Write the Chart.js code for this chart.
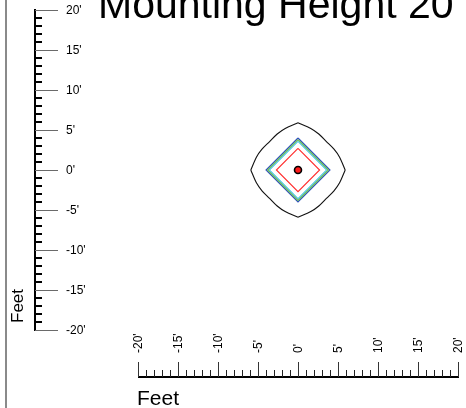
<!DOCTYPE html>
<html>
<head>
<meta charset="utf-8">
<style>
  html, body { margin: 0; padding: 0; background: #fff; }
  #wrap { width: 466px; height: 408px; }
</style>
<script src="https://cdn.jsdelivr.net/npm/chart.js@4"></script>
</head>
<body>
<div id="wrap"><canvas id="plot" width="466" height="408"></canvas></div>
<script>
// axis ticks (feet)
var tickValues = [20, 15, 10, 5, 0, -5, -10, -15, -20];
var tickLabels = ["20'", "15'", "10'", "5'", "0'", "-5'", "-10'", "-15'", "-20'"];

// luminaire position
var fixture = [{x: 0, y: 0}];

// outer isolux contour, one arc per quadrant (feet)
var outerNE = [{x: 0, y: 5.9}, {x: 1.6, y: 5.2}, {x: 2.6, y: 4.5}, {x: 3.55, y: 3.55}, {x: 4.5, y: 2.6}, {x: 5.2, y: 1.6}, {x: 5.9, y: 0}];
var outerSE = [{x: 5.9, y: 0}, {x: 5.2, y: -1.6}, {x: 4.5, y: -2.6}, {x: 3.55, y: -3.55}, {x: 2.6, y: -4.5}, {x: 1.6, y: -5.2}, {x: 0, y: -5.9}];
var outerSW = [{x: 0, y: -5.9}, {x: -1.6, y: -5.2}, {x: -2.6, y: -4.5}, {x: -3.55, y: -3.55}, {x: -4.5, y: -2.6}, {x: -5.2, y: -1.6}, {x: -5.9, y: 0}];
var outerNW = [{x: -5.9, y: 0}, {x: -5.2, y: 1.6}, {x: -4.5, y: 2.6}, {x: -3.55, y: 3.55}, {x: -2.6, y: 4.5}, {x: -1.6, y: 5.2}, {x: 0, y: 5.9}];

// inner contours (diamonds)
var blueContour = [{x: 0, y: 4.0}, {x: 4.0, y: 0}, {x: 0, y: -4.0}, {x: -4.0, y: 0}, {x: 0, y: 4.0}];
var greenContour = [{x: 0, y: 3.8}, {x: 3.8, y: 0}, {x: 0, y: -3.8}, {x: -3.8, y: 0}, {x: 0, y: 3.8}];
var cyanContour = [{x: 0, y: 3.58}, {x: 3.58, y: 0}, {x: 0, y: -3.58}, {x: -3.58, y: 0}, {x: 0, y: 3.58}];
var redContour = [{x: 0, y: 2.7}, {x: 2.7, y: 0}, {x: 0, y: -2.7}, {x: -2.7, y: 0}, {x: 0, y: 2.7}];

var FONT = '"Liberation Sans", Arial, sans-serif';

function contour(data, color, tension) {
    return {
        type: "line",
        data: data,
        showLine: true,
        borderColor: color,
        borderWidth: 1.1,
        pointRadius: 0,
        fill: false,
        tension: tension || 0
    };
}

// ruler-style axes, title and frame drawn from the chart's own scales
var rulerPlugin = {
    id: "ruler",
    afterDraw: function (chart) {
        var ctx = chart.ctx;
        var xs = chart.scales.x;
        var ys = chart.scales.y;
        var v, p, i;
        ctx.save();

        // panel frame on the left
        ctx.fillStyle = "#8a8a8a";
        ctx.fillRect(5, 0, 2, 408);

        // title
        ctx.fillStyle = "#000";
        ctx.font = "41px " + FONT;
        ctx.textAlign = "left";
        ctx.textBaseline = "alphabetic";
        ctx.fillText("Mounting Height 20'", 98, 18);

        // vertical ruler
        var axX = 35;
        var yTop = ys.getPixelForValue(20);
        var yBot = ys.getPixelForValue(-20);
        ctx.fillStyle = "#000";
        ctx.fillRect(axX - 1, yTop - 1, 2, yBot - yTop + 2);
        for (v = -20; v <= 20; v++) {
            p = Math.round(ys.getPixelForValue(v));
            if (v % 5 === 0) {
                ctx.fillStyle = "#6a6a6a";
                ctx.fillRect(axX, p, 23, 1);
            } else {
                ctx.fillStyle = "#000";
                ctx.fillRect(axX, p - 1, 7, 2);
            }
        }
        ctx.fillStyle = "#000";
        ctx.font = "12px " + FONT;
        ctx.textBaseline = "middle";
        for (i = 0; i < tickValues.length; i++) {
            ctx.fillText(tickLabels[i], 66, ys.getPixelForValue(tickValues[i]) + 1);
        }

        // vertical axis title
        ctx.save();
        ctx.translate(18, 323);
        ctx.rotate(-Math.PI / 2);
        ctx.font = "17px " + FONT;
        ctx.textAlign = "left";
        ctx.textBaseline = "middle";
        ctx.fillText("Feet", 0, 0);
        ctx.restore();

        // horizontal ruler
        var axY = 377;
        var xLeft = xs.getPixelForValue(-20);
        var xRight = xs.getPixelForValue(20);
        ctx.fillStyle = "#000";
        ctx.fillRect(xLeft, axY - 1, xRight - xLeft + 1, 2);
        for (v = -20; v <= 20; v++) {
            p = Math.round(xs.getPixelForValue(v));
            if (v % 5 === 0) {
                ctx.fillStyle = "#333";
                ctx.fillRect(p, axY - 15, 1, 15);
            } else {
                ctx.fillStyle = "#222";
                ctx.fillRect(p, axY - 7, 1, 7);
            }
        }
        ctx.fillStyle = "#000";
        ctx.font = "12px " + FONT;
        for (i = 0; i < tickValues.length; i++) {
            ctx.save();
            ctx.translate(xs.getPixelForValue(tickValues[i]) + 1, 353);
            ctx.rotate(-Math.PI / 2);
            ctx.textAlign = "left";
            ctx.textBaseline = "middle";
            ctx.fillText(tickLabels[i], 0, 0);
            ctx.restore();
        }

        // horizontal axis title
        ctx.font = "21px " + FONT;
        ctx.textAlign = "left";
        ctx.textBaseline = "alphabetic";
        ctx.fillText("Feet", 137, 405);

        ctx.restore();
    }
};

var plotChart = new Chart(document.getElementById("plot").getContext("2d"), {
    type: "scatter",
    data: {
        datasets: [
            {
                data: fixture,
                pointRadius: 3.5,
                pointBorderWidth: 1.6,
                pointBorderColor: "#000",
                pointBackgroundColor: "#ff1a1a",
                borderColor: "#000",
                backgroundColor: "#ff1a1a"
            },
            contour(redContour, "#ff2a2a"),
            contour(cyanContour, "#4cc4dc"),
            contour(greenContour, "#5cb444"),
            contour(blueContour, "#2f50bc"),
            contour(outerNE, "#111", 0.3),
            contour(outerSE, "#111", 0.3),
            contour(outerSW, "#111", 0.3),
            contour(outerNW, "#111", 0.3)
        ]
    },
    options: {
        responsive: false,
        animation: false,
        layout: {
            padding: {left: 138, right: 8, top: 10, bottom: 78}
        },
        scales: {
            x: {type: "linear", min: -20, max: 20, display: false},
            y: {type: "linear", min: -20, max: 20, display: false}
        },
        plugins: {
            legend: {display: false},
            tooltip: {enabled: false},
            title: {display: false}
        }
    },
    plugins: [rulerPlugin]
});
</script>
</body>
</html>
